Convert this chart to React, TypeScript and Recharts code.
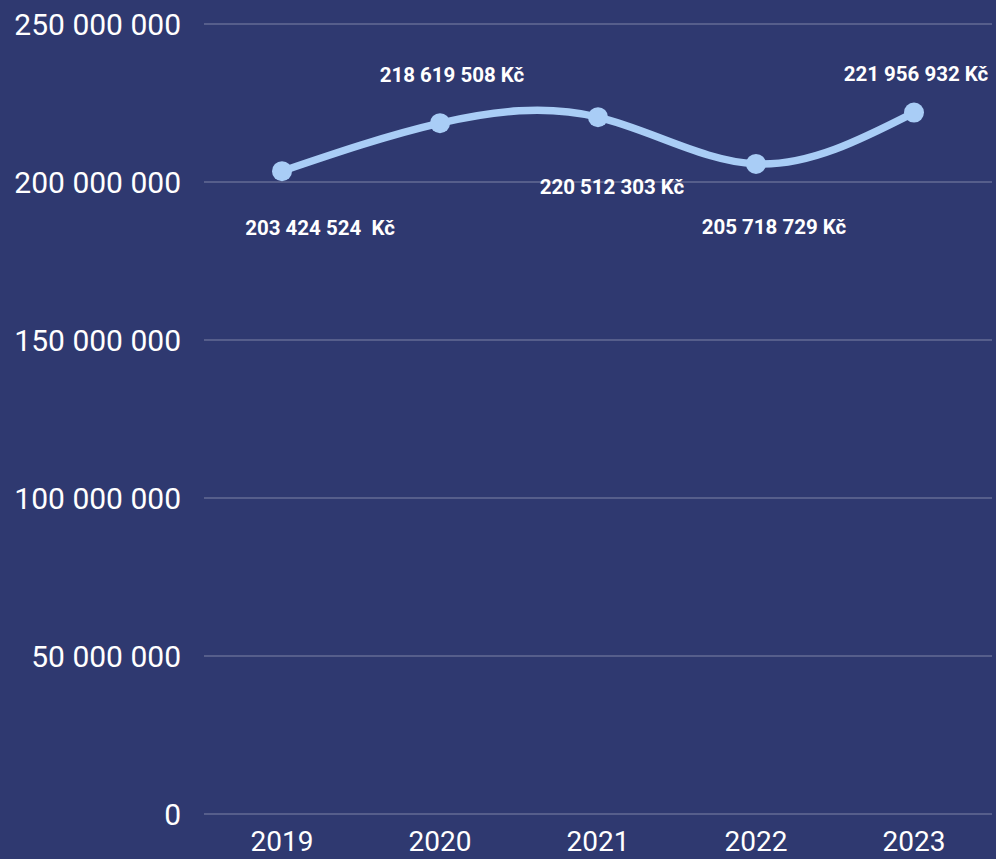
import React from "react";
import { LineChart, Line, XAxis, YAxis, CartesianGrid } from "recharts";

const years = ["2019", "2020", "2021", "2022", "2023"];
const amounts = [203424524, 218619508, 220512303, 205718729, 221956932];
const labelTexts = [
  "203 424 524  Kč",
  "218 619 508 Kč",
  "220 512 303 Kč",
  "205 718 729 Kč",
  "221 956 932 Kč"
];
const yTicks = [0, 50000000, 100000000, 150000000, 200000000, 250000000];

const data = years.map((year, i) => ({ year, amount: amounts[i] }));

// where each value label sits relative to its point
const labelOffsets = [
  { dx: 38, dy: 57 },
  { dx: 12, dy: -48 },
  { dx: 14, dy: 70 },
  { dx: 18, dy: 63 },
  { dx: 2, dy: -39 }
];

const BG = "#2f3970";
const LINE = "#a9cdf6";

const fmt = (v: number) => v.toLocaleString("en-US").replace(/,/g, " ");

function ValueLabel(props: any) {
  const { x, y, index } = props;
  const o = labelOffsets[index] || { dx: 0, dy: -40 };
  return (
    <text
      x={x + o.dx}
      y={y + o.dy}
      textAnchor="middle"
      dominantBaseline="central"
      fill="#ffffff"
      fontFamily="Roboto, sans-serif"
      fontWeight={700}
      fontSize={20.5}
      style={{ whiteSpace: "pre" }}
    >
      {labelTexts[index]}
    </text>
  );
}

export default function App() {
  return (
    <div style={{ width: 996, height: 859, background: BG }}>
      <style>{"body{margin:0;background:" + BG + "}"}</style>
      <LineChart
        width={996}
        height={859}
        data={data}
        margin={{ top: 24, right: 4, bottom: 0, left: 0 }}
        style={{ fontFamily: "Roboto, sans-serif" }}
      >
        <CartesianGrid vertical={false} stroke="rgba(255,255,255,0.25)" strokeWidth={1.5} />
        <XAxis
          dataKey="year"
          axisLine={false}
          tickLine={false}
          tickSize={0}
          tickMargin={17}
          height={45}
          padding={{ left: 78, right: 78 }}
          tick={{ fill: "#ffffff", fontSize: 28 }}
        />
        <YAxis
          domain={[0, 250000000]}
          ticks={yTicks}
          tickFormatter={fmt}
          axisLine={false}
          tickLine={false}
          tickSize={0}
          tickMargin={23}
          width={204}
          tick={{ fill: "#ffffff", fontSize: 30 }}
        />
        <Line
          type="natural"
          dataKey="amount"
          stroke={LINE}
          strokeWidth={7.5}
          dot={{ r: 10, fill: LINE, stroke: LINE, strokeWidth: 0 }}
          activeDot={false}
          isAnimationActive={false}
          label={<ValueLabel />}
        />
      </LineChart>
    </div>
  );
}
